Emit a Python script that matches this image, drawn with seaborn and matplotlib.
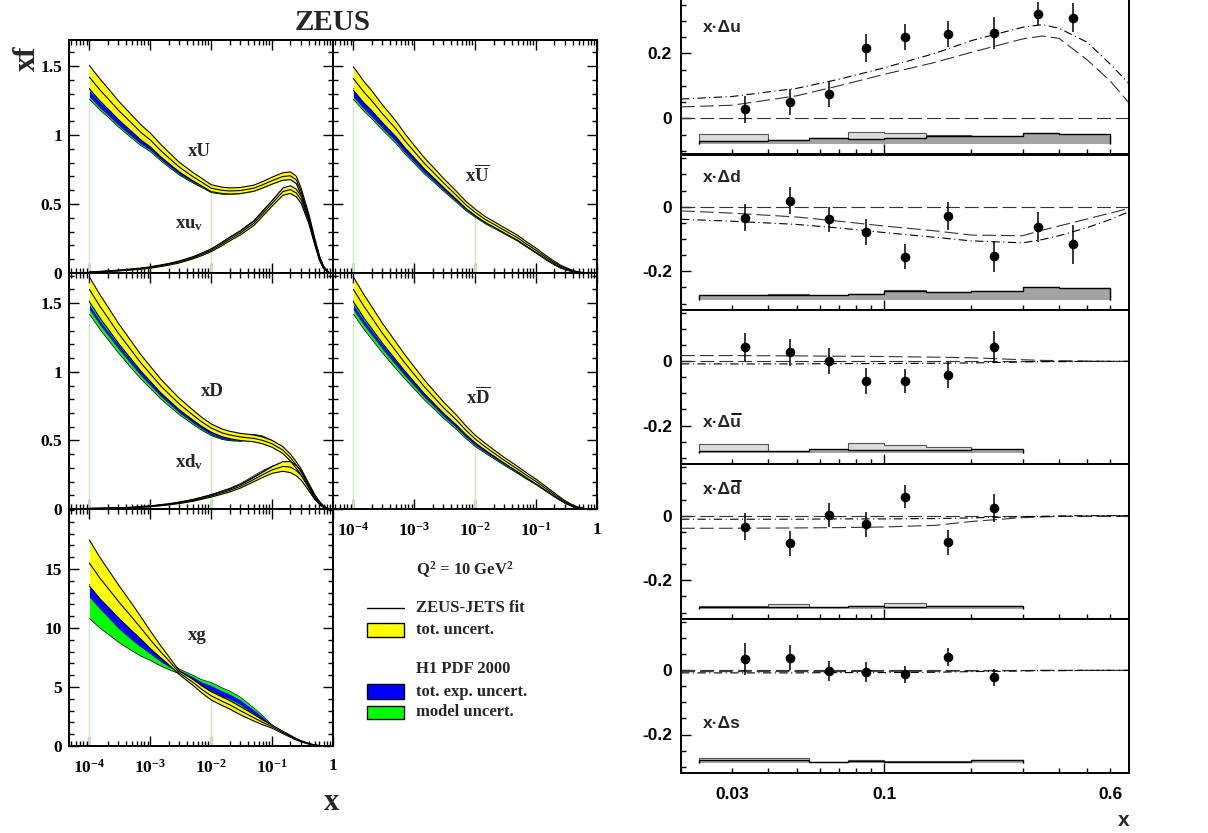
import numpy as np
import matplotlib
matplotlib.use("Agg")
import matplotlib.pyplot as plt
from matplotlib.patches import Rectangle
from matplotlib.lines import Line2D
from matplotlib.ticker import FixedLocator, NullFormatter, FuncFormatter
import seaborn as sns

# ---------------- left figure data (x f at Q^2 = 10 GeV^2) ----------------
X = [1e-4, 1.5e-4, 2e-4, 3e-4, 5e-4, 7e-4, 1e-3, 1.5e-3, 2e-3, 3e-3, 5e-3, 7e-3, 1e-2, 1.5e-2,
     2e-2, 3e-2, 5e-2, 0.07, 0.1, 0.15, 0.2, 0.25, 0.3, 0.4, 0.5, 0.6, 0.7, 0.85]

XU_C = [1.42, 1.326, 1.267, 1.18, 1.084, 1.02, 0.965, 0.886, 0.836, 0.768, 0.699, 0.659, 0.615, 0.60,
        0.595, 0.598, 0.615, 0.64, 0.67, 0.70, 0.705, 0.675, 0.59, 0.41, 0.24, 0.115, 0.045, 0.003]
XU_HW = [0.085, 0.08, 0.075, 0.068, 0.06, 0.055, 0.05, 0.045, 0.04, 0.035, 0.03, 0.028, 0.025, 0.023,
         0.022, 0.022, 0.022, 0.023, 0.025, 0.027, 0.028, 0.027, 0.025, 0.02, 0.015, 0.01, 0.005, 0.001]
XU_H1 = [1.30, 1.216, 1.167, 1.09, 1.004, 0.95, 0.905, 0.834, 0.789, 0.728, 0.669, 0.635, 0.597, 0.585,
         0.582, 0.588, 0.605, 0.63, 0.66, 0.69, 0.695, 0.665, 0.585, 0.405, 0.237, 0.113, 0.044, 0.003]
XU_H1G = [0.038, 0.036, 0.034, 0.031, 0.028, 0.026, 0.024, 0.022, 0.02, 0.018, 0.016, 0.015, 0.014, 0.013,
          0.013, 0.013, 0.013, 0.014, 0.015, 0.016, 0.016, 0.016, 0.015, 0.012, 0.01, 0.006, 0.003, 0.001]
XU_H1B = [0.022, 0.021, 0.02, 0.018, 0.016, 0.015, 0.014, 0.013, 0.012, 0.011, 0.01, 0.009, 0.009, 0.008,
          0.008, 0.008, 0.008, 0.009, 0.009, 0.01, 0.01, 0.01, 0.009, 0.008, 0.006, 0.004, 0.002, 0.001]

XUV_C = [0.006, 0.01, 0.013, 0.018, 0.026, 0.032, 0.04, 0.053, 0.063, 0.08, 0.11, 0.135, 0.165, 0.21,
         0.245, 0.29, 0.36, 0.43, 0.505, 0.59, 0.605, 0.58, 0.53, 0.38, 0.22, 0.10, 0.035, 0.003]
XUV_HW = [0.002, 0.002, 0.003, 0.003, 0.004, 0.004, 0.005, 0.006, 0.006, 0.007, 0.008, 0.009, 0.01, 0.012,
          0.013, 0.014, 0.016, 0.018, 0.02, 0.026, 0.028, 0.028, 0.026, 0.02, 0.014, 0.008, 0.004, 0.001]
XUV_H1 = [0.006, 0.01, 0.013, 0.018, 0.026, 0.032, 0.041, 0.054, 0.065, 0.082, 0.113, 0.139, 0.17, 0.217,
          0.253, 0.30, 0.372, 0.442, 0.513, 0.592, 0.602, 0.575, 0.524, 0.374, 0.216, 0.098, 0.034, 0.003]
XUV_H1G = [0.001, 0.001, 0.002, 0.002, 0.002, 0.002, 0.003, 0.003, 0.003, 0.004, 0.004, 0.005, 0.005, 0.006,
           0.007, 0.008, 0.009, 0.01, 0.011, 0.013, 0.014, 0.014, 0.013, 0.01, 0.007, 0.004, 0.002, 0.0]
XUV_H1B = [0.001, 0.001, 0.001, 0.001, 0.002, 0.002, 0.002, 0.002, 0.003, 0.003, 0.003, 0.004, 0.004, 0.005,
           0.006, 0.006, 0.007, 0.008, 0.009, 0.01, 0.011, 0.011, 0.01, 0.008, 0.006, 0.003, 0.001, 0.0]

XUB_C = [1.41, 1.31, 1.25, 1.155, 1.045, 0.96, 0.88, 0.79, 0.735, 0.655, 0.56, 0.495, 0.44, 0.385,
         0.355, 0.31, 0.255, 0.21, 0.165, 0.11, 0.075, 0.05, 0.035, 0.015, 0.006, 0.002, 0.0005, 0.0]
XUB_HW = [0.085, 0.078, 0.072, 0.065, 0.057, 0.051, 0.045, 0.04, 0.037, 0.033, 0.029, 0.026, 0.023, 0.021,
          0.02, 0.019, 0.018, 0.016, 0.015, 0.012, 0.01, 0.008, 0.007, 0.004, 0.002, 0.001, 0.0, 0.0]
XUB_H1 = [1.30, 1.21, 1.155, 1.07, 0.97, 0.892, 0.82, 0.738, 0.688, 0.615, 0.528, 0.469, 0.42, 0.368,
          0.34, 0.297, 0.243, 0.199, 0.155, 0.10, 0.066, 0.042, 0.028, 0.01, 0.004, 0.001, 0.0, 0.0]
XUB_H1G = [0.04, 0.038, 0.036, 0.033, 0.03, 0.028, 0.026, 0.024, 0.022, 0.02, 0.018, 0.016, 0.015, 0.014,
           0.014, 0.013, 0.013, 0.012, 0.012, 0.01, 0.008, 0.007, 0.005, 0.003, 0.001, 0.0, 0.0, 0.0]
XUB_H1B = [0.024, 0.023, 0.022, 0.02, 0.018, 0.017, 0.016, 0.014, 0.013, 0.012, 0.011, 0.01, 0.009, 0.008,
           0.008, 0.008, 0.008, 0.007, 0.007, 0.006, 0.005, 0.004, 0.003, 0.002, 0.001, 0.0, 0.0, 0.0]

XD_C = [1.60, 1.475, 1.395, 1.28, 1.15, 1.065, 0.985, 0.895, 0.84, 0.765, 0.685, 0.635, 0.59, 0.555,
        0.54, 0.525, 0.515, 0.50, 0.475, 0.43, 0.375, 0.32, 0.27, 0.17, 0.095, 0.048, 0.017, 0.002]
XD_HW = [0.09, 0.085, 0.08, 0.073, 0.065, 0.06, 0.055, 0.05, 0.046, 0.042, 0.037, 0.033, 0.03, 0.028,
         0.027, 0.026, 0.025, 0.025, 0.025, 0.025, 0.025, 0.024, 0.022, 0.016, 0.01, 0.006, 0.003, 0.001]
XD_H1 = [1.47, 1.355, 1.283, 1.18, 1.062, 0.985, 0.913, 0.831, 0.782, 0.713, 0.64, 0.595, 0.554, 0.525,
         0.515, 0.51, 0.527, 0.515, 0.483, 0.433, 0.375, 0.32, 0.267, 0.166, 0.091, 0.045, 0.016, 0.002]
XD_H1G = [0.05, 0.048, 0.046, 0.043, 0.04, 0.037, 0.034, 0.031, 0.029, 0.026, 0.023, 0.021, 0.019, 0.018,
          0.017, 0.017, 0.018, 0.018, 0.017, 0.016, 0.015, 0.014, 0.013, 0.01, 0.007, 0.004, 0.002, 0.0]
XD_H1B = [0.016, 0.016, 0.015, 0.015, 0.014, 0.014, 0.013, 0.013, 0.012, 0.012, 0.011, 0.011, 0.011, 0.011,
          0.011, 0.012, 0.014, 0.014, 0.013, 0.012, 0.011, 0.01, 0.009, 0.007, 0.005, 0.003, 0.001, 0.0]

XDV_C = [0.004, 0.005, 0.006, 0.008, 0.011, 0.015, 0.02, 0.028, 0.034, 0.045, 0.062, 0.078, 0.095, 0.118,
         0.135, 0.165, 0.215, 0.25, 0.285, 0.31, 0.305, 0.28, 0.245, 0.16, 0.09, 0.045, 0.016, 0.002]
XDV_HW = [0.001, 0.001, 0.002, 0.002, 0.002, 0.003, 0.003, 0.004, 0.004, 0.005, 0.006, 0.007, 0.008, 0.01,
          0.011, 0.013, 0.016, 0.02, 0.025, 0.035, 0.04, 0.038, 0.035, 0.025, 0.015, 0.008, 0.004, 0.001]
XDV_H1 = [0.004, 0.005, 0.006, 0.008, 0.011, 0.015, 0.02, 0.029, 0.035, 0.047, 0.066, 0.082, 0.1, 0.125,
          0.143, 0.176, 0.232, 0.268, 0.30, 0.32, 0.305, 0.275, 0.232, 0.142, 0.075, 0.035, 0.012, 0.001]
XDV_H1G = [0.001, 0.001, 0.001, 0.001, 0.002, 0.002, 0.002, 0.003, 0.003, 0.004, 0.005, 0.005, 0.006, 0.007,
           0.008, 0.009, 0.011, 0.012, 0.013, 0.014, 0.014, 0.014, 0.013, 0.01, 0.007, 0.004, 0.002, 0.0]
XDV_H1B = [0.001, 0.001, 0.001, 0.001, 0.001, 0.002, 0.002, 0.002, 0.003, 0.003, 0.004, 0.004, 0.005, 0.006,
           0.007, 0.008, 0.01, 0.011, 0.012, 0.013, 0.013, 0.013, 0.012, 0.009, 0.006, 0.003, 0.001, 0.0]

XDB_C = [1.60, 1.475, 1.395, 1.28, 1.15, 1.065, 0.98, 0.885, 0.825, 0.74, 0.645, 0.575, 0.51, 0.45,
         0.41, 0.355, 0.29, 0.245, 0.20, 0.145, 0.105, 0.075, 0.052, 0.024, 0.01, 0.004, 0.001, 0.0]
XDB_HW = [0.09, 0.085, 0.08, 0.073, 0.065, 0.06, 0.055, 0.05, 0.046, 0.041, 0.036, 0.032, 0.028, 0.025,
          0.023, 0.021, 0.019, 0.018, 0.017, 0.014, 0.012, 0.01, 0.008, 0.005, 0.003, 0.001, 0.0, 0.0]
XDB_H1 = [1.47, 1.355, 1.283, 1.18, 1.062, 0.985, 0.908, 0.821, 0.767, 0.688, 0.60, 0.535, 0.475, 0.42,
          0.384, 0.333, 0.272, 0.23, 0.188, 0.135, 0.097, 0.069, 0.047, 0.021, 0.008, 0.003, 0.001, 0.0]
XDB_H1G = [0.05, 0.048, 0.046, 0.043, 0.04, 0.037, 0.034, 0.031, 0.029, 0.026, 0.023, 0.021, 0.019, 0.017,
           0.016, 0.015, 0.014, 0.013, 0.012, 0.011, 0.01, 0.008, 0.007, 0.005, 0.003, 0.001, 0.0, 0.0]
XDB_H1B = [0.018, 0.018, 0.017, 0.016, 0.015, 0.015, 0.014, 0.013, 0.012, 0.012, 0.011, 0.01, 0.01, 0.009,
           0.009, 0.008, 0.008, 0.008, 0.007, 0.007, 0.006, 0.005, 0.004, 0.003, 0.002, 0.001, 0.0, 0.0]

XG_C = [15.5, 14.2, 13.4, 12.25, 10.9, 10.0, 9.0, 7.95, 7.25, 6.2, 5.4, 4.8, 4.25, 3.8,
        3.5, 3.0, 2.4, 2.0, 1.64, 1.15, 0.82, 0.57, 0.40, 0.19, 0.08, 0.035, 0.012, 0.0]
XG_HW = [1.95, 1.75, 1.6, 1.4, 1.15, 0.95, 0.75, 0.5, 0.35, 0.15, 0.25, 0.3, 0.35, 0.36,
         0.36, 0.35, 0.28, 0.2, 0.13, 0.1, 0.08, 0.06, 0.05, 0.03, 0.015, 0.007, 0.003, 0.0]
XG_BLO = [12.6, 11.58, 10.91, 9.95, 8.96, 8.37, 7.8, 7.12, 6.73, 6.2, 5.45, 4.98, 4.68, 4.23,
          3.99, 3.5, 2.75, 2.25, 1.63, 1.14, 0.82, 0.565, 0.40, 0.185, 0.078, 0.034, 0.011, 0.0]
XG_BHI = [13.7, 12.58, 11.87, 10.85, 9.76, 9.07, 8.4, 7.62, 7.13, 6.44, 5.85, 5.42, 5.12, 4.67,
          4.41, 3.9, 3.05, 2.45, 1.73, 1.2, 0.86, 0.595, 0.42, 0.195, 0.082, 0.036, 0.013, 0.0]
XG_GLO = [10.8, 9.98, 9.49, 8.8, 8.06, 7.62, 7.25, 6.77, 6.48, 6.12, 5.3, 4.78, 4.42, 3.97,
          3.73, 3.25, 2.57, 2.13, 1.58, 1.11, 0.8, 0.55, 0.39, 0.18, 0.075, 0.033, 0.012, 0.0]
XG_GHI = [13.7, 12.6, 11.89, 10.9, 9.86, 9.22, 8.55, 7.77, 7.28, 6.52, 6.0, 5.62, 5.38, 4.93,
          4.67, 4.15, 3.23, 2.57, 1.78, 1.23, 0.88, 0.61, 0.43, 0.2, 0.085, 0.037, 0.014, 0.0]

# ---------------- right figure data (polarised) ----------------
XP = [0.0333, 0.0475, 0.0647, 0.0869, 0.118, 0.1656, 0.239, 0.339, 0.446]
DU_Y = [0.028, 0.049, 0.076, 0.216, 0.25, 0.26, 0.263, 0.322, 0.309]
DU_E = [0.042, 0.04, 0.04, 0.042, 0.04, 0.04, 0.05, 0.036, 0.045]
DD_Y = [-0.034, 0.018, -0.039, -0.078, -0.155, -0.029, -0.154, -0.0625, -0.117]
DD_E = [0.042, 0.042, 0.039, 0.04, 0.038, 0.044, 0.048, 0.047, 0.059]
DUB_Y = [0.044, 0.028, 0.001, -0.062, -0.062, -0.043, 0.044]
DUB_E = [0.044, 0.043, 0.04, 0.04, 0.038, 0.041, 0.05]
DDB_Y = [-0.034, -0.086, 0.002, -0.027, 0.059, -0.083, 0.023]
DDB_E = [0.042, 0.04, 0.037, 0.038, 0.035, 0.04, 0.044]
DS_Y = [0.034, 0.0385, -0.002, -0.004, -0.0125, 0.043, -0.022]
DS_E = [0.05, 0.039, 0.032, 0.031, 0.026, 0.028, 0.026]

XR = [0.02, 0.03, 0.05, 0.07, 0.1, 0.15, 0.2, 0.3, 0.35, 0.4, 0.5, 0.6, 0.7]
DU_DOT = [0.059, 0.067, 0.092, 0.12, 0.155, 0.2, 0.239, 0.28, 0.288, 0.277, 0.234, 0.167, 0.105]
DU_DASH = [0.035, 0.04, 0.069, 0.1, 0.135, 0.172, 0.203, 0.244, 0.253, 0.246, 0.18, 0.115, 0.045]
DD_DASH = [-0.013, -0.02, -0.032, -0.045, -0.06, -0.075, -0.088, -0.09, -0.073, -0.06, -0.038, -0.02, -0.005]
DD_DOT = [-0.039, -0.045, -0.055, -0.066, -0.08, -0.095, -0.106, -0.112, -0.102, -0.09, -0.065, -0.04, -0.015]
DUB_DASH = [0.018, 0.018, 0.017, 0.016, 0.015, 0.013, 0.011, 0.005, 0.003, 0.002, 0.001, 0.0, 0.0]
DUB_DOT = [-0.008, -0.008, -0.008, -0.007, -0.007, -0.006, -0.005, -0.002, -0.001, -0.001, 0.0, 0.0, 0.0]
DDB_DASH = [-0.039, -0.039, -0.038, -0.037, -0.035, -0.03, -0.018, -0.006, -0.004, -0.002, -0.001, 0.0, 0.0]
DDB_DOT = [-0.011, -0.011, -0.011, -0.01, -0.01, -0.009, -0.007, -0.003, -0.002, -0.001, 0.0, 0.0, 0.0]
DS_DASH = [-0.004, -0.004, -0.004, -0.004, -0.003, -0.003, -0.002, -0.001, 0.0, 0.0, 0.0, 0.0, 0.0]
DS_DOT = [-0.008, -0.008, -0.008, -0.007, -0.007, -0.006, -0.004, -0.002, -0.001, -0.001, 0.0, 0.0, 0.0]

EDGES = [0.023, 0.04, 0.055, 0.075, 0.1, 0.14, 0.2, 0.3, 0.4, 0.6]
HBASE = [-0.078, -0.2885, -0.2856, -0.288, -0.2885]
H_LIGHT = [
    [0.031, 0.011, 0.017, 0.037, 0.034, 0.026, 0.022, 0.03, 0.027],
    [0.0135, 0.018, 0.013, 0.0177, 0.03, 0.025, 0.026, 0.04, 0.036],
    [0.028, 0.004, 0.008, 0.031, 0.025, 0.0175, 0.01],
    [0.008, 0.0155, 0.005, 0.008, 0.0187, 0.007, 0.009],
    [0.0156, 0.0156, 0.004, 0.009, 0.005, 0.005, 0.01],
]
H_DARK = [
    [0.008, 0.011, 0.017, 0.013, 0.0175, 0.024, 0.024, 0.033, 0.029],
    [0.0135, 0.0155, 0.0135, 0.0177, 0.026, 0.024, 0.026, 0.04, 0.0365],
    [0.005, 0.006, 0.012, 0.01, 0.008, 0.008, 0.012],
    [0.006, 0.006, 0.006, 0.008, 0.006, 0.007, 0.009],
    [0.01, 0.008, 0.004, 0.007, 0.004, 0.004, 0.008],
]

# ---------------- style ----------------
sns.set_style("white")
plt.rcParams.update({
    "font.family": ["Liberation Serif", "DejaVu Sans"],
    "font.weight": "bold",
    "mathtext.fontset": "custom",
    "mathtext.rm": "Liberation Serif:bold",
    "mathtext.it": "Liberation Serif:bold",
    "mathtext.bf": "Liberation Serif:bold",
    "mathtext.default": "rm",
    "axes.linewidth": 1.4,
    "axes.edgecolor": "black",
    "lines.scale_dashes": False,
})

YELLOW, BLUE, GREEN = "#ffff00", "#0000ff", "#00ff00"
LIGHT, DARK = "#dcdcdc", "#a3a3a3"
W, H = 1208, 833
fig = plt.figure(figsize=(W / 100, H / 100), dpi=100)


def px_axes(x0, y0, x1, y1):
    return fig.add_axes([x0 / W, 1 - y1 / H, (x1 - x0) / W, (y1 - y0) / H])


XMIN_L = 10 ** -4.335
MINOR_L = [k * 10.0 ** e for e in range(-5, 0) for k in range(2, 10) if k * 10.0 ** e > XMIN_L]


def lfmt(v, pos):
    if abs(v - 1) < 1e-9:
        return "1"
    return r"$10^{%d}$" % int(round(np.log10(v)))


def style_left(ax, ylim, major, minor, ylab, xlab):
    ax.set_xscale("log")
    ax.set_xlim(XMIN_L, 1)
    ax.set_ylim(*ylim)
    ax.xaxis.set_major_locator(FixedLocator([1e-4, 1e-3, 1e-2, 1e-1, 1]))
    ax.xaxis.set_minor_locator(FixedLocator(MINOR_L))
    ax.yaxis.set_major_locator(FixedLocator(major))
    ax.yaxis.set_minor_locator(FixedLocator(minor))
    ax.xaxis.set_minor_formatter(NullFormatter())
    ax.yaxis.set_minor_formatter(NullFormatter())
    ax.xaxis.set_major_formatter(FuncFormatter(lfmt) if xlab else NullFormatter())
    ax.yaxis.set_major_formatter(FuncFormatter(lambda v, p: "%g" % v) if ylab else NullFormatter())
    ax.tick_params(which="both", direction="in", top=True, right=True, bottom=True, left=True,
                   width=1.0, labelsize=12.5, colors="black")
    ax.tick_params(which="major", length=7.5)
    ax.tick_params(which="minor", length=3.6)
    ax.tick_params(axis="y", which="both", pad=5)
    ax.tick_params(axis="x", which="both", pad=9)
    ax.set_facecolor("white")


def draw_pdf(ax, c, hw, glo, ghi, blo, bhi):
    c = np.asarray(c)
    hw = np.asarray(hw)
    ax.fill_between(X, glo, ghi, color=GREEN, lw=0, zorder=2)
    ax.fill_between(X, blo, bhi, color=BLUE, lw=0, zorder=3)
    for arr in (glo, ghi):
        sns.lineplot(x=X, y=arr, ax=ax, color="black", lw=0.5, zorder=3.5, legend=False)
    ax.fill_between(X, c - hw, c + hw, color=YELLOW, lw=0, zorder=4)
    for arr in (c - hw, c, c + hw):
        sns.lineplot(x=X, y=arr, ax=ax, color="black", lw=0.8, zorder=5, legend=False)


def pdf_sym(ax, c, hw, h1, g, b):
    h1 = np.asarray(h1)
    g = np.asarray(g)
    b = np.asarray(b)
    draw_pdf(ax, c, hw, h1 - g, h1 + g, h1 - b, h1 + b)


def guide(ax, lows):
    # faint vertical guides at x = 1e-4 and 1e-2, below the upper curve
    for i in (0, 12):
        top = min(np.asarray(a)[i] for a in lows)
        ax.vlines(X[i], 0, top, color="#b8f5b8", lw=0.9, zorder=1)


TL = px_axes(69, 40, 333, 273)
TR = px_axes(333, 40, 597, 273)
ML = px_axes(69, 273, 333, 509)
MR = px_axes(333, 273, 597, 509)
BL = px_axes(69, 509, 333, 746)

min01 = list(np.round(np.arange(0, 1.75, 0.1), 2))
style_left(TL, (0, 1.69), [0, 0.5, 1, 1.5], min01, True, False)
style_left(TR, (0, 1.69), [0, 0.5, 1, 1.5], min01, False, False)
style_left(ML, (0, 1.72), [0, 0.5, 1, 1.5], min01, True, False)
style_left(MR, (0, 1.72), [0, 0.5, 1, 1.5], min01, False, True)
style_left(BL, (0, 20.08), [0, 5, 10, 15], list(range(0, 21)), True, True)

a = np.asarray
guide(TL, [a(XU_H1) - a(XU_H1G), a(XU_C) - a(XU_HW)])
pdf_sym(TL, XU_C, XU_HW, XU_H1, XU_H1G, XU_H1B)
pdf_sym(TL, XUV_C, XUV_HW, XUV_H1, XUV_H1G, XUV_H1B)
guide(TR, [a(XUB_H1) - a(XUB_H1G), a(XUB_C) - a(XUB_HW)])
pdf_sym(TR, XUB_C, XUB_HW, XUB_H1, XUB_H1G, XUB_H1B)
guide(ML, [a(XD_H1) - a(XD_H1G), a(XD_C) - a(XD_HW)])
pdf_sym(ML, XD_C, XD_HW, XD_H1, XD_H1G, XD_H1B)
pdf_sym(ML, XDV_C, XDV_HW, XDV_H1, XDV_H1G, XDV_H1B)
guide(MR, [a(XDB_H1) - a(XDB_H1G), a(XDB_C) - a(XDB_HW)])
pdf_sym(MR, XDB_C, XDB_HW, XDB_H1, XDB_H1G, XDB_H1B)
guide(BL, [XG_GLO, XG_BLO, a(XG_C) - a(XG_HW)])
draw_pdf(BL, XG_C, XG_HW, XG_GLO, XG_GHI, XG_BLO, XG_BHI)

# ---------------- right panels ----------------
RP = [px_axes(681, -2, 1129, 154), px_axes(681, 155, 1129, 310), px_axes(681, 310, 1129, 464),
      px_axes(681, 464, 1129, 619), px_axes(681, 619, 1129, 773)]
RYL = [(-0.11, 0.37), (-0.32, 0.16), (-0.32, 0.16), (-0.32, 0.16), (-0.32, 0.16)]
R_MINOR_X = [0.02, 0.03, 0.04, 0.05, 0.06, 0.07, 0.08, 0.09, 0.2, 0.3, 0.4, 0.5, 0.6]
PTS = [(DU_Y, DU_E), (DD_Y, DD_E), (DUB_Y, DUB_E), (DDB_Y, DDB_E), (DS_Y, DS_E)]
CURVES = [(DU_DASH, DU_DOT), (DD_DASH, DD_DOT), (DUB_DASH, DUB_DOT), (DDB_DASH, DDB_DOT), (DS_DASH, DS_DOT)]
DASH = (0, (10, 3.6))
DASHDOT = (0, (6, 2.5, 0.8, 2.5))


def rminor_fmt(v, pos):
    for t, s in ((0.03, "0.03"), (0.6, "0.6")):
        if abs(v - t) < 1e-6:
            return s
    return ""


for i, ax in enumerate(RP):
    ax.set_xscale("log")
    ax.set_xlim(0.02, 0.697)
    ax.set_ylim(*RYL[i])
    ax.set_facecolor("white")
    ax.xaxis.set_major_locator(FixedLocator([0.1]))
    ax.xaxis.set_minor_locator(FixedLocator(R_MINOR_X))
    ax.yaxis.set_major_locator(FixedLocator([-0.2, 0, 0.2]))
    ax.yaxis.set_minor_locator(FixedLocator(list(np.round(np.arange(-0.3, 0.40, 0.05), 2))))
    ax.yaxis.set_major_formatter(FuncFormatter(lambda v, p: "%g" % (0 if abs(v) < 1e-9 else v)))
    ax.yaxis.set_minor_formatter(NullFormatter())
    if i == 4:
        ax.xaxis.set_major_formatter(FuncFormatter(lambda v, p: "0.1"))
        ax.xaxis.set_minor_formatter(FuncFormatter(rminor_fmt))
    else:
        ax.xaxis.set_major_formatter(NullFormatter())
        ax.xaxis.set_minor_formatter(NullFormatter())
    ax.tick_params(which="both", direction="in", top=False, right=False, left=True, bottom=True,
                   width=1.0, labelsize=12.5, labelfontfamily="Liberation Sans", colors="black")
    ax.tick_params(which="major", length=7.5)
    ax.tick_params(which="minor", length=3.6)
    ax.tick_params(axis="y", which="both", pad=6.5)
    ax.tick_params(axis="x", which="both", pad=10)
    for s in ax.spines.values():
        s.set_linewidth(1.4)

    # systematic uncertainty bands
    nb = len(H_LIGHT[i])
    e = EDGES[:nb + 1]
    base = HBASE[i]
    lt = base + np.asarray(H_LIGHT[i])
    dk = base + np.asarray(H_DARK[i])
    ax.stairs(lt, e, baseline=base, fill=True, color=LIGHT, zorder=1)
    ax.stairs(lt, e, baseline=base, fill=False, color="#555555", lw=0.8, zorder=1.1)
    ax.stairs(dk, e, baseline=base, fill=True, color=DARK, zorder=1.2)
    ax.stairs(dk, e, baseline=base, fill=False, color="black", lw=1.0, zorder=1.3)

    # model curves
    ax.axhline(0, color="#333333", lw=0.8, linestyle=DASH, zorder=2)
    dsh, dd = CURVES[i]
    sns.lineplot(x=XR, y=dsh, ax=ax, color="#333333", lw=0.8, linestyle=DASH, zorder=2, legend=False)
    sns.lineplot(x=XR, y=dd, ax=ax, color="black", lw=0.8, linestyle=DASHDOT, zorder=2, legend=False)

    # data points
    y, err = PTS[i]
    xs = XP[:len(y)]
    ax.errorbar(xs, y, yerr=err, fmt="none", ecolor="black", elinewidth=1.1, capsize=0, zorder=3)
    sns.scatterplot(x=xs, y=y, ax=ax, color="black", s=48, edgecolor="black", linewidth=0, zorder=4, legend=False)

# ---------------- overlay text (pixel coordinates) ----------------
ov = fig.add_axes([0, 0, 1, 1])
ov.set_xlim(0, W)
ov.set_ylim(H, 0)
ov.axis("off")
ov.patch.set_alpha(0)

serif = dict(family="Liberation Serif", weight="bold")
ov.text(333, 22, "ZEUS", fontsize=21, ha="center", va="center", **serif)
ov.text(27, 58, "xf", fontsize=22, ha="center", va="center", rotation=90, **serif)
ov.text(331, 803, "x", fontsize=22, ha="center", va="center", **serif)

lab = dict(fontsize=13.5, ha="center", va="center", **serif)
ov.text(199, 151, "xU", **lab)
ov.text(189, 224, r"xu$_{\mathrm{v}}$", **lab)
ov.text(477, 175, r"x$\overline{\mathrm{U}}$", **lab)
ov.text(212, 391, "xD", **lab)
ov.text(189, 462, r"xd$_{\mathrm{v}}$", **lab)
ov.text(478, 397, r"x$\overline{\mathrm{D}}$", **lab)
ov.text(197, 635, "xg", **lab)

leg = dict(fontsize=12, ha="left", va="center", **serif)
ov.text(416, 570, r"Q$^{2}$ = 10 GeV$^{2}$", **leg)
ov.add_line(Line2D([367, 404], [608, 608], color="black", lw=1.0))
ov.text(416, 608, "ZEUS-JETS fit", **leg)
ov.add_patch(Rectangle((367, 623), 37, 14, facecolor=YELLOW, edgecolor="black", lw=1.0))
ov.text(416, 630, "tot. uncert.", **leg)
ov.text(416, 669, "H1 PDF 2000", **leg)
ov.add_patch(Rectangle((367, 684), 37, 15, facecolor=BLUE, edgecolor="black", lw=1.0))
ov.text(416, 692, "tot. exp. uncert.", **leg)
ov.add_patch(Rectangle((367, 706), 37, 13, facecolor=GREEN, edgecolor="black", lw=1.0))
ov.text(416, 712, "model uncert.", **leg)

sans = dict(family=["Liberation Sans", "DejaVu Sans"], weight="bold", fontsize=12.5, ha="left", va="center")
rend = fig.canvas.get_renderer()


def sans_label(x, y, s, bar=False):
    t = ov.text(x, y, s, **sans)
    if bar:
        pre = ov.text(x, y, s[:-1], **sans)
        bf = t.get_window_extent(rend)
        bp = pre.get_window_extent(rend)
        pre.remove()
        yb = H - bf.y1 - 0.5
        ov.add_line(Line2D([bp.x1 + 0.8, bf.x1 - 0.8], [yb, yb], color="black", lw=1.3))


sans_label(703, 27, "x\u00b7\u0394u")
sans_label(703, 177, "x\u00b7\u0394d")
sans_label(703, 422, "x\u00b7\u0394u", bar=True)
sans_label(703, 489, "x\u00b7\u0394d", bar=True)
sans_label(703, 723, "x\u00b7\u0394s")
ov.text(1129, 821, "x", family="Liberation Sans", weight="bold", fontsize=15, ha="right", va="center")

fig.savefig("out.png", dpi=100)
